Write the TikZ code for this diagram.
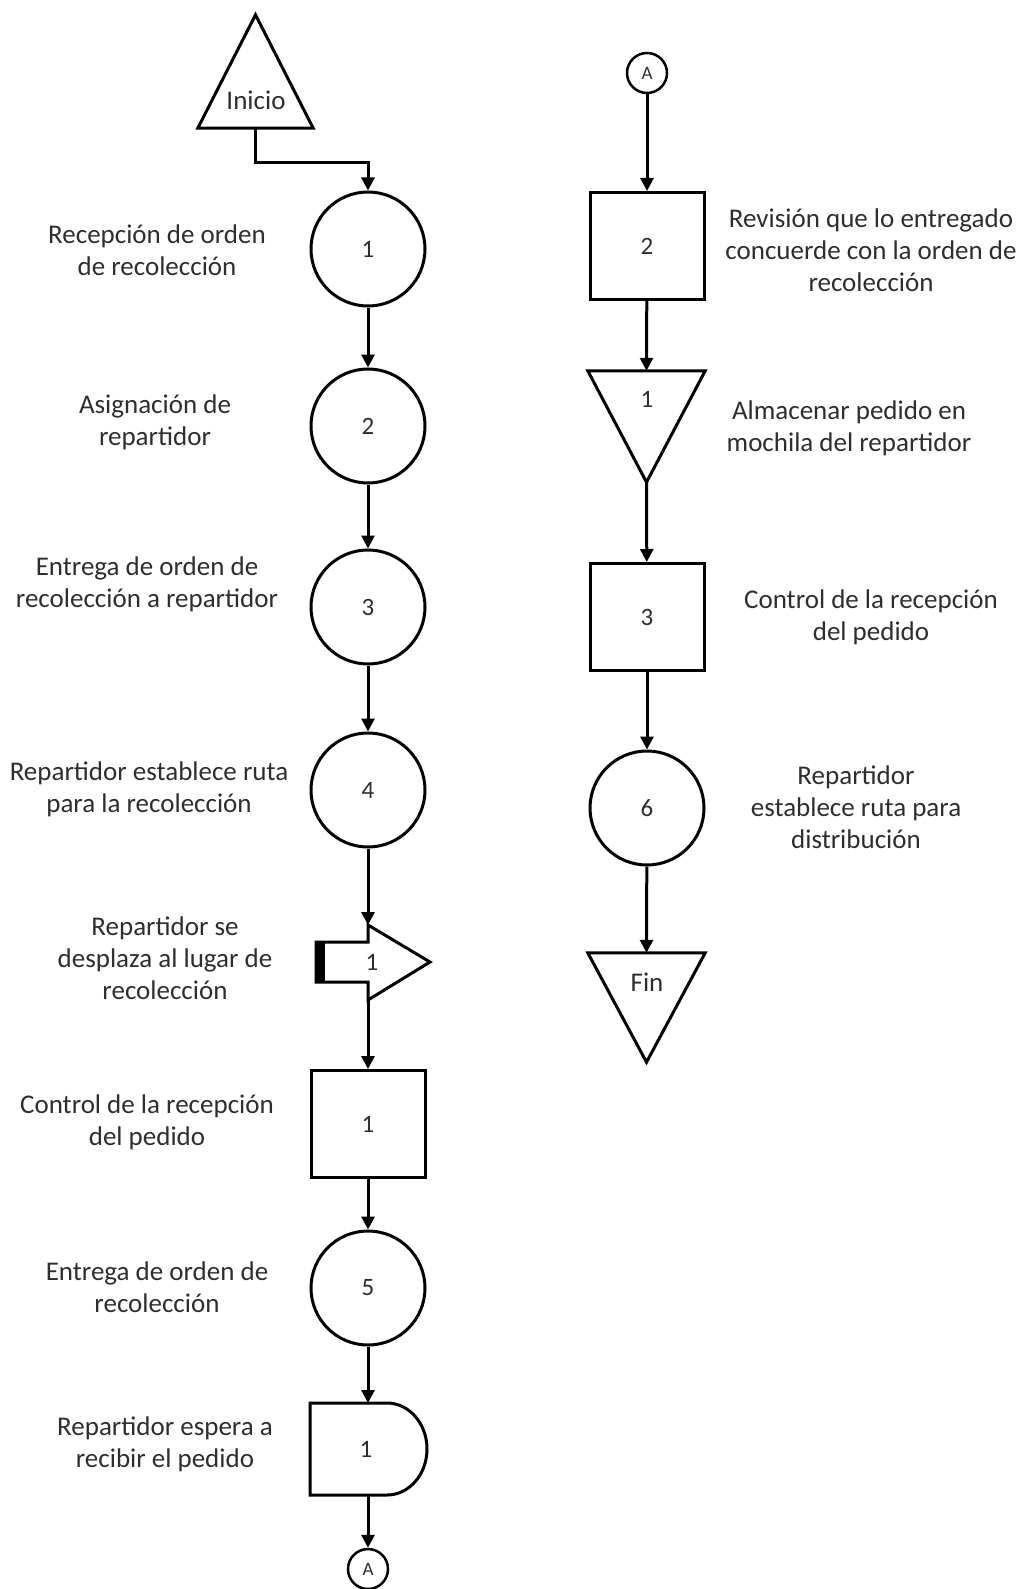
\documentclass[tikz,border=0pt]{standalone}
\usepackage{fontspec}
\setmainfont{Carlito}
\usetikzlibrary{arrows.meta}
\tikzset{
  lbl/.style={font=\fontsize{27pt}{32pt}\selectfont, align=center, text=black!82, inner sep=0pt},
  num/.style={font=\fontsize{25pt}{28pt}\selectfont, text=black!82},
  shp/.style={draw, line width=3pt, fill=white},
  proc/.style={shp, circle, minimum size=114pt, inner sep=0pt, num},
  insp/.style={shp, rectangle, minimum width=114pt, minimum height=107pt, inner sep=0pt, num},
  conn/.style={draw, circle, line width=2.5pt, minimum size=40pt, inner sep=0pt, font=\fontsize{19pt}{20pt}\selectfont, text=black!82},
  flow/.style={line width=3pt, -{Triangle[length=13pt, width=13pt]}},
}
\begin{document}
\begin{tikzpicture}[x=1pt, y=-1pt]
\useasboundingbox (0,0) rectangle (1021,1589);

% ---------- left column ----------
\node[minimum width=115pt, minimum height=113pt, inner sep=0pt] (ini) at (255.5,71.5) {};
\draw[line width=3pt] (ini.north) -- (ini.south east) -- (ini.south west) -- cycle;
\node[lbl] (initxt) at (256,100) {Inicio};

\node[proc] (c1) at (368,249) {1};
\node[proc] (c2) at (368,426) {2};
\node[proc] (c3) at (368,607) {3};
\node[proc] (c4) at (368,790) {4};

% transport symbol
\coordinate (trin) at (368,925);
\coordinate (trout) at (368,1000);
\draw[line width=3pt, fill=white] (316,942) -- (368,942) -- (trin) -- (430,962) -- (trout)
  -- (368,982) -- (316,982) -- cycle;
\fill (316,942) rectangle (325,982);
\node[num] (trnum) at (372,962) {1};

\node[insp] (s1) at (368,1124) {1};
\node[proc] (c5) at (368,1288) {5};

% delay symbol
\coordinate (dlin) at (368,1403);
\coordinate (dlout) at (368,1495);
\draw[line width=3pt, fill=white] (310,1403) -- (387,1403)
  arc[start angle=90, end angle=-90, x radius=40pt, y radius=46pt]
  -- (310,1495) -- cycle;
\node[num] (dlnum) at (366,1449) {1};

\node[conn] (ab) at (368,1569) {A};

\draw[flow] (ini.south) -- ++(0,34) -| (c1.north);
\draw[flow] (c1) -- (c2);
\draw[flow] (c2) -- (c3);
\draw[flow] (c3) -- (c4);
\draw[flow] (c4) -- (trin);
\draw[flow] (trout) -- (s1);
\draw[flow] (s1) -- (c5);
\draw[flow] (c5) -- (dlin);
\draw[flow] (dlout) -- (ab);

\node[lbl] (t1) at (157,250) {Recepción de orden\\de recolección};
\node[lbl] (t2) at (155,422) {Asignación de\\repartidor};
\node[lbl] (t3) at (147,584) {Entrega de orden de\\recolección a repartidor};
\node[lbl] (t4) at (149,789) {Repartidor establece ruta\\para la recolección};
\node[lbl] (t5) at (165,958) {Repartidor se\\desplaza al lugar de\\recolección};
\node[lbl] (t6) at (147,1122) {Control de la recepción\\del pedido};
\node[lbl] (t7) at (157,1287) {Entrega de orden de\\recolección};
\node[lbl] (t8) at (165,1444) {Repartidor espera a\\recibir el pedido};

% ---------- right column ----------
\node[conn] (at) at (647,73) {A};
\node[insp] (s2) at (647,246) {2};

\node[minimum width=117pt, minimum height=111pt, inner sep=0pt] (alm) at (646.5,426.5) {};
\draw[line width=3pt] (alm.north west) -- (alm.north east) -- (alm.south) -- cycle;
\node[num] (almnum) at (647,399) {1};

\node[insp] (s3) at (647,617) {3};
\node[proc] (c6) at (647,808) {6};

\node[minimum width=117pt, minimum height=109pt, inner sep=0pt] (fin) at (646.5,1007.5) {};
\draw[line width=3pt] (fin.north west) -- (fin.north east) -- (fin.south) -- cycle;
\node[lbl] (fintxt) at (647,982) {Fin};

\draw[flow] (at) -- (s2);
\draw[flow] (s2) -- (alm.north);
\draw[flow] (alm.south) -- (s3);
\draw[flow] (s3) -- (c6);
\draw[flow] (c6) -- (fin.north);

\node[lbl] (r1) at (871,250) {Revisión que lo entregado\\concuerde con la orden de\\recolección};
\node[lbl] (r2) at (849,428) {Almacenar pedido en\\mochila del repartidor};
\node[lbl] (r3) at (871,617) {Control de la recepción\\del pedido};
\node[lbl] (r4) at (856,807) {Repartidor\\establece ruta para\\distribución};
\end{tikzpicture}
\end{document}
